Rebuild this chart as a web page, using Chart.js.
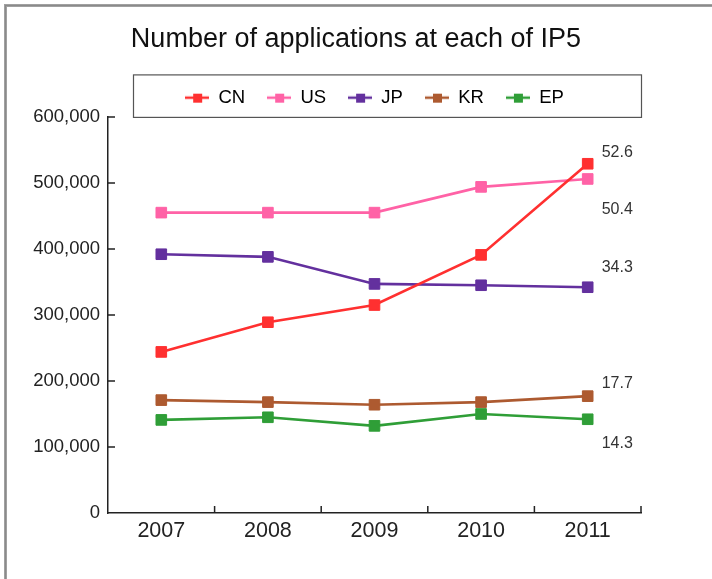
<!DOCTYPE html>
<html>
<head>
<meta charset="utf-8">
<script src="https://cdn.jsdelivr.net/npm/chart.js@4.4.1/dist/chart.umd.min.js"></script>
<style>
  html, body { margin: 0; padding: 0; background: #fff; }
  #wrap { position: relative; width: 712px; height: 579px; }
</style>
</head>
<body>
<div id="wrap"><canvas id="chart-ip5"></canvas></div>
<script>
// data
var years = ['2007', '2008', '2009', '2010', '2011'];
var cnApps = [244000, 289000, 315000, 391000, 529000];
var usApps = [455000, 455000, 455000, 494000, 506000];
var jpApps = [392000, 388000, 347000, 345000, 342000];
var krApps = [171000, 168000, 164000, 168000, 177000];
var epApps = [141000, 145000, 132000, 150000, 142000];
var shares2011 = ['52.6', '50.4', '34.3', '17.7', '14.3'];
var yTicks = [0, 100000, 200000, 300000, 400000, 500000, 600000];

var FONT = "'Liberation Sans', Arial, Helvetica, sans-serif";

// little line + square image for the legend
function legendMark(color) {
  var c = document.createElement('canvas');
  c.width = 24; c.height = 12;
  var g = c.getContext('2d');
  g.strokeStyle = color; g.lineWidth = 2.5;
  g.beginPath(); g.moveTo(0, 6); g.lineTo(24, 6); g.stroke();
  g.fillStyle = color;
  g.fillRect(8, 2, 9, 9);
  return c;
}

var series = [
  { label: 'CN', data: cnApps, color: '#ff3030', dy: -11 },
  { label: 'US', data: usApps, color: '#ff62a6', dy: 31 },
  { label: 'JP', data: jpApps, color: '#63309e', dy: -20 },
  { label: 'KR', data: krApps, color: '#ad5a30', dy: -13 },
  { label: 'EP', data: epApps, color: '#2f9e37', dy: 24 }
];

var datasets = series.map((s) => ({
  label: s.label,
  data: s.data,
  borderColor: s.color,
  backgroundColor: s.color,
  borderWidth: 2.6,
  pointStyle: 'rect',
  pointRadius: 7.5,
  pointBorderWidth: 1,
  pointBackgroundColor: s.color,
  pointBorderColor: s.color,
  tension: 0
}));

// frame, legend box, inward ticks, share labels
var extras = {
  id: 'extras',
  beforeDraw(chart) {
    var ctx = chart.ctx;
    ctx.save();
    ctx.fillStyle = '#a0a0a0';
    ctx.fillRect(4, 4, 3, 575);
    ctx.fillRect(4, 4, 708, 3);
    ctx.fillStyle = '#8a8a8a';
    ctx.fillRect(5, 5, 1, 574);
    ctx.fillRect(5, 5, 707, 1);
    ctx.restore();
  },
  afterDraw(chart) {
    var ctx = chart.ctx;
    var area = chart.chartArea;
    var x = chart.scales.x, y = chart.scales.y;
    var lg = chart.legend;
    ctx.save();
    // legend box
    ctx.strokeStyle = '#555';
    ctx.lineWidth = 1.2;
    ctx.strokeRect(area.left + 25.5, lg.top + 8.5, area.right - area.left - 25, area.top - lg.top - 8);
    // inward tick marks
    ctx.strokeStyle = '#222';
    ctx.lineWidth = 1.5;
    ctx.beginPath();
    y.ticks.forEach((t) => {
      if (t.value === 0) return;
      var py = y.getPixelForValue(t.value);
      ctx.moveTo(area.left, py); ctx.lineTo(area.left + 7, py);
    });
    for (var i = 0; i < years.length; i++) {
      var px = x.getPixelForValue(i + 0.5);
      ctx.moveTo(px, area.bottom); ctx.lineTo(px, area.bottom - 7);
    }
    ctx.stroke();
    // 2011 share labels
    ctx.fillStyle = '#333';
    ctx.font = '16px ' + FONT;
    ctx.textAlign = 'left';
    ctx.textBaseline = 'middle';
    var last = years.length - 1;
    series.forEach((s, k) => {
      var px = x.getPixelForValue(last);
      var py = y.getPixelForValue(s.data[last]);
      ctx.fillText(shares2011[k], px + 14, py + s.dy);
    });
    ctx.restore();
  }
};

Chart.defaults.font.family = FONT;
Chart.defaults.color = '#222';

new Chart(document.getElementById('chart-ip5'), {
  type: 'line',
  data: { labels: years, datasets },
  options: {
    responsive: true,
    maintainAspectRatio: false,
    animation: false,
    layout: { padding: { top: 0, left: 0, right: 0, bottom: 36 } },
    scales: {
      x: {
        offset: true,
        grid: { display: false, offset: true, drawTicks: false },
        border: { display: true, color: '#222', width: 1.5 },
        ticks: { font: { size: 21.5 }, color: '#222', padding: 5, maxRotation: 0 },
        afterFit: (s) => { s.height = 30; }
      },
      y: {
        min: 0,
        max: 600000,
        grid: { display: false, drawTicks: false },
        border: { display: true, color: '#222', width: 1.5 },
        afterBuildTicks: (s) => { s.ticks = yTicks.map((v) => ({ value: v })); },
        ticks: {
          font: { size: 18.5 },
          color: '#222',
          padding: 8,
          callback: (v) => v.toLocaleString('en-US')
        },
        afterFit: (s) => { s.width = 108; }
      },
      side: {
        position: 'right',
        display: true,
        grid: { display: false, drawTicks: false },
        border: { display: false },
        ticks: { display: false },
        afterFit: (s) => { s.width = 71; }
      }
    },
    plugins: {
      title: {
        display: true,
        text: 'Number of applications at each of IP5',
        color: '#111',
        font: { size: 27, weight: 'normal' },
        padding: { top: 23, bottom: 11 }
      },
      legend: {
        position: 'top',
        fullSize: false,
        labels: {
          usePointStyle: true,
          pointStyleWidth: 24,
          boxHeight: 12,
          padding: 22,
          color: '#111',
          font: { size: 18.5 },
          generateLabels: (chart) => series.map((s, i) => ({
            text: s.label,
            pointStyle: legendMark(s.color),
            fillStyle: s.color,
            strokeStyle: s.color,
            lineWidth: 0,
            hidden: false,
            datasetIndex: i
          }))
        }
      },
      tooltip: { enabled: false }
    }
  },
  plugins: [extras]
});
</script>
</body>
</html>
